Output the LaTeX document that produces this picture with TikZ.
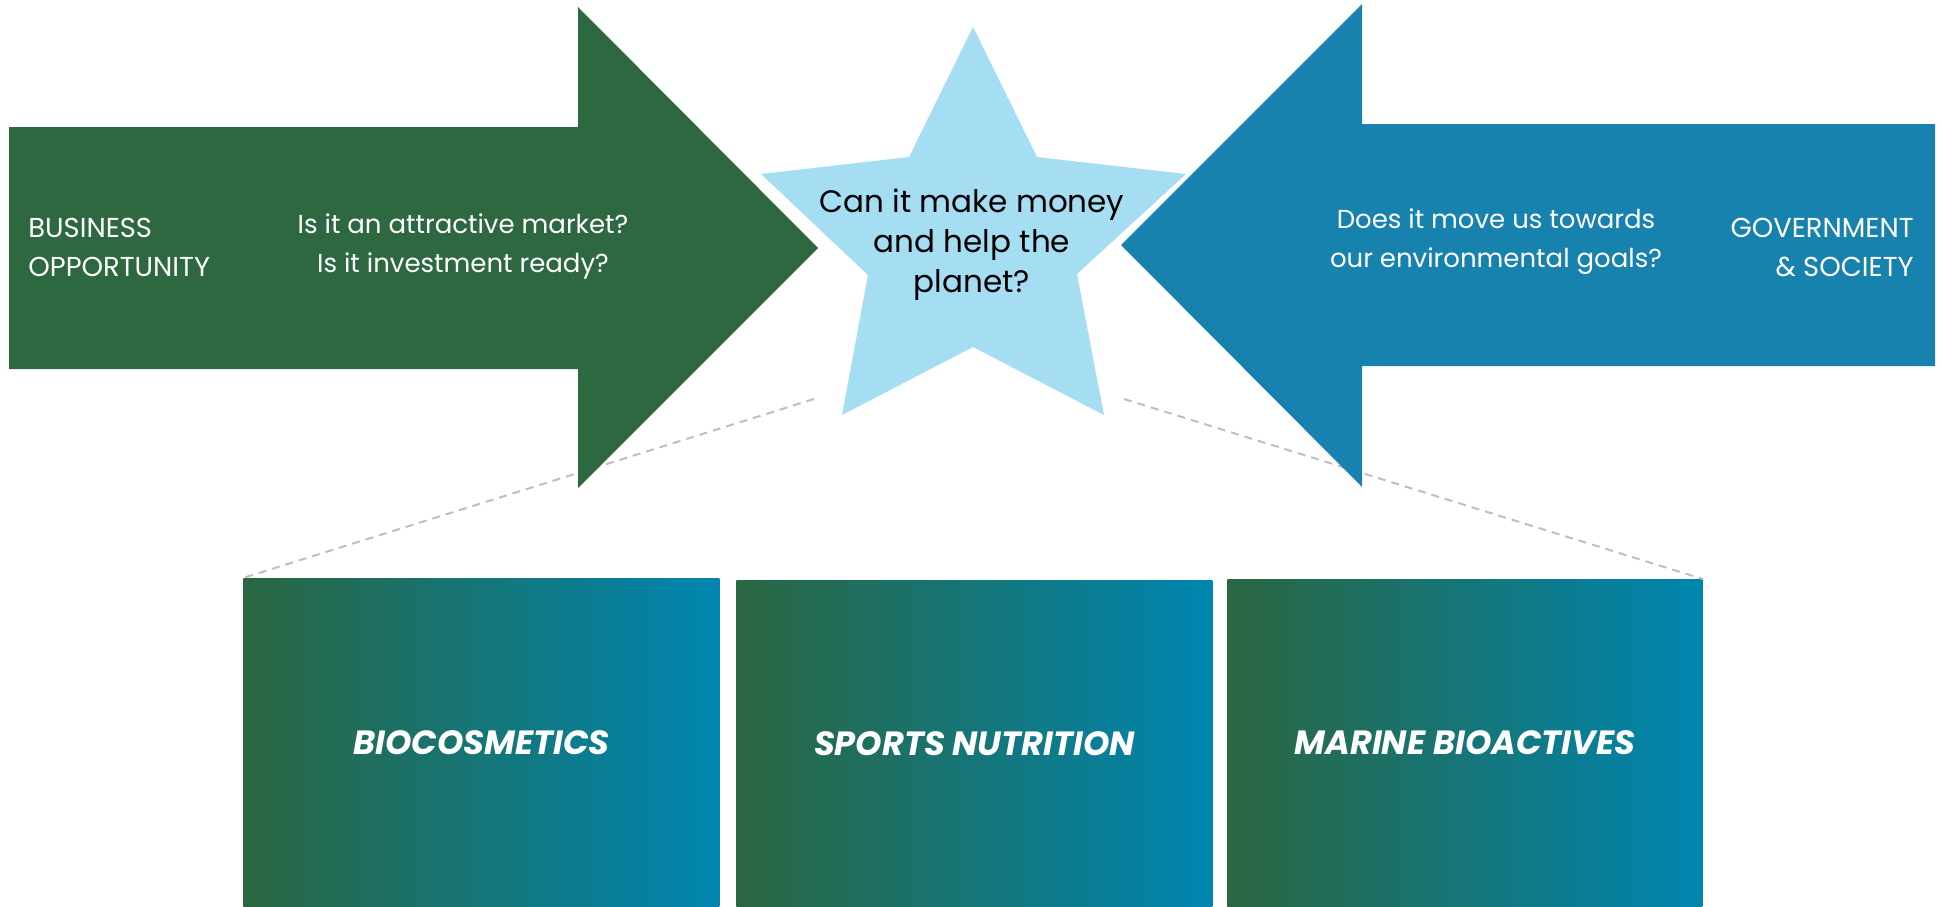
\documentclass[tikz,border=0pt]{standalone}
\usepackage{fontspec}
\setmainfont{Poppins}
\usepackage{tikz}
\definecolor{pitchGreen}{HTML}{2E6841}
\definecolor{pitchBlue}{HTML}{1782AE}
\definecolor{pitchStar}{HTML}{A5DEF3}
\definecolor{pitchGradLeft}{HTML}{2A6641}
\definecolor{pitchGradRight}{HTML}{0085B0}
\definecolor{pitchDash}{HTML}{BFBFBF}
\tikzset{
  arrowLabel/.style={
    text=white,
    align=center,
    inner sep=0pt,
    font=\fontsize{13}{19.5}\selectfont
  },
  sideLabel/.style={
    text=white,
    inner sep=0pt,
    font=\fontsize{13.7}{19.5}\selectfont
  },
  starLabel/.style={
    text=black,
    align=center,
    inner sep=0pt,
    font=\fontsize{15.5}{20}\selectfont
  },
  sectorBox/.style={
    rectangle,
    anchor=north west,
    inner sep=0pt,
    minimum width=238pt,
    minimum height=164pt,
    left color=pitchGradLeft,
    right color=pitchGradRight,
    text=white,
    font=\fontsize{16.8}{20}\selectfont\bfseries\itshape
  },
  zoomLine/.style={
    draw=pitchDash,
    line width=1pt,
    dash pattern=on 4pt off 3pt
  }
}
\begin{document}
\begin{tikzpicture}[x=0.5pt,y=-0.5pt]
  \useasboundingbox (0,0) rectangle (1943,906);
  \coordinate (starFootLeft) at (814,399);
  \coordinate (starFootRight) at (1124,399);
  \node[sectorBox] (bio) at (243,578) {BIOCOSMETICS};
  \node[sectorBox,minimum height=163pt] (sports) at (736,580) {SPORTS NUTRITION};
  \node[sectorBox,minimum width=237.5pt,minimum height=163.5pt] (marine) at (1227,579) {MARINE BIOACTIVES};
  \draw[zoomLine] (starFootLeft) -- (bio.north west);
  \draw[zoomLine] (starFootRight) -- (marine.north east);
  \fill[pitchGreen] (9,127) -- (578,127) -- (578,7) -- (818,248) -- (578,488) -- (578,369) -- (9,369) -- cycle;
  \fill[pitchBlue] (1935,124) -- (1362,124) -- (1362,4) -- (1121,245) -- (1362,487) -- (1362,366) -- (1935,366) -- cycle;
  \fill[pitchStar] (973,27) -- (1037,157) -- (1186,174) -- (1077,274) -- (1104,415) -- (973,347)
    -- (842,415) -- (868,275) -- (761,174) -- (909,157) -- cycle;
  \node[sideLabel,anchor=west,align=left] (business) at (28,247) {BUSINESS\\OPPORTUNITY};
  \node[arrowLabel] (market) at (463,246) {Is it an attractive market?\\Is it investment ready?};
  \node[starLabel] (question) at (972,245) {Can it make money\\and help the\\planet?};
  \node[arrowLabel] (goals) at (1496,242) {Does it move us towards\\our environmental goals?};
  \node[sideLabel,anchor=east,align=right] (society) at (1914,247) {GOVERNMENT\\\& SOCIETY};
\end{tikzpicture}
\end{document}
